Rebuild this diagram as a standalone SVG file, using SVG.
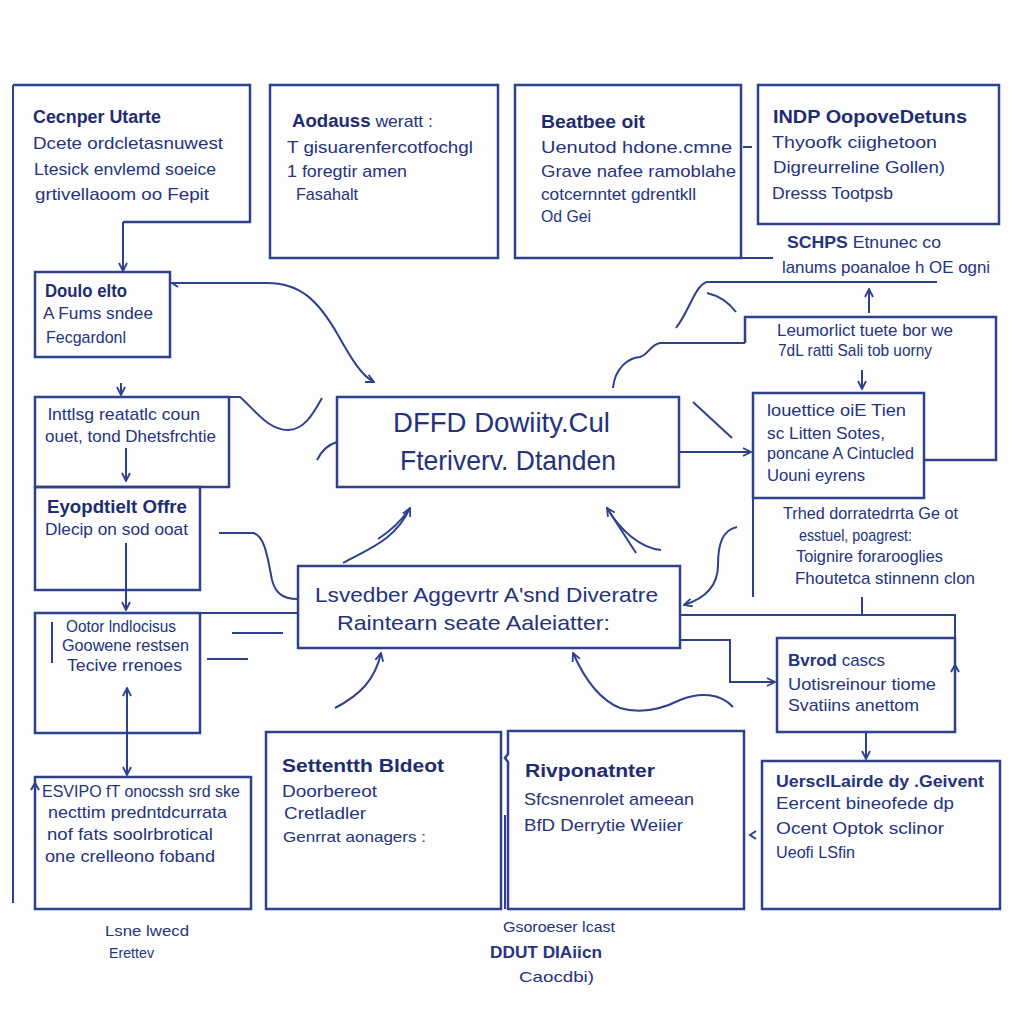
<svg xmlns="http://www.w3.org/2000/svg" width="1023" height="1023" viewBox="0 0 1023 1023">
<style>
.bx{fill:none;stroke:#2e418c;stroke-width:2.5}
.ln{fill:none;stroke:#2e418c;stroke-width:2}
.t{font-family:"Liberation Sans",Arial,sans-serif;font-size:17px;fill:#25347c}
.h{font-weight:bold;font-size:18px;fill:#1f2d70}
.big{font-size:28px;fill:#24337a}
.mid{font-size:21px;fill:#24337a}
.sm{font-size:15px}
</style>
<defs>
<marker id="ah" viewBox="0 0 10 10" refX="9" refY="5" markerWidth="10" markerHeight="10" markerUnits="userSpaceOnUse" orient="auto-start-reverse">
<path d="M1,1 L9,5 L1,9" fill="none" stroke="#2e418c" stroke-width="1.8"/>
</marker>
</defs>
<rect width="1023" height="1023" fill="#fdfdfe"/>

<g id="connectors" class="ln">
<path d="M13,85 V903"/>
<path d="M123,222 V271" marker-end="url(#ah)"/>
<path d="M170,283 H267 C300,283 318,300 338,335 C352,360 362,376 374,382" marker-end="url(#ah)"/>
<path d="M178,287 L172,283"/>
<path d="M229,397 H240 C255,410 268,430 288,430 C305,430 314,412 322,398"/>
<path d="M317,460 C322,450 330,444 337,442"/>
<path d="M121,383 V395" marker-end="url(#ah)"/>
<path d="M126,448 V481" marker-end="url(#ah)"/>
<path d="M126,543 V610" marker-end="url(#ah)"/>
<path d="M219,533 H253 C265,535 268,560 272,580 C276,595 285,599 297,599"/>
<path d="M200,613 H298"/>
<path d="M232,633 H283"/>
<path d="M207,659 H248"/>
<path d="M52,622 V663"/>
<path d="M127,688 V775" marker-start="url(#ah)" marker-end="url(#ah)"/>
<path d="M31,790 L35,783 L39,790"/>
<path d="M680,452 H751" marker-end="url(#ah)"/>
<path d="M693,402 L732,438"/>
<path d="M937,282 H707 C695,285 690,310 676,328"/>
<path d="M745,343 H660 C650,345 648,355 640,357 C628,358 615,368 613,388"/>
<path d="M707,293 C720,296 730,304 736,312"/>
<path d="M869,313 V289" marker-end="url(#ah)"/>
<path d="M862,370 V389" marker-end="url(#ah)"/>
<path d="M741,258 H773"/>
<path d="M743,147 H752"/>
<path d="M753,498 V597"/>
<path d="M862,597 V615"/>
<path d="M680,615 H955 V638"/>
<path d="M951,672 L955,665 L959,672"/>
<path d="M680,640 H730 V682 H775" marker-end="url(#ah)"/>
<path d="M866,732 V759" marker-end="url(#ah)"/>
<path d="M756,831 L750,835 L756,839"/>
<path d="M343,563 C370,548 395,540 410,508" marker-end="url(#ah)"/>
<path d="M378,539 C392,530 402,520 410,508"/>
<path d="M636,553 L607,508" marker-end="url(#ah)"/>
<path d="M661,550 C640,548 620,530 607,508"/>
<path d="M737,527 C722,530 718,545 718,565 C718,590 700,600 684,605" marker-end="url(#ah)"/>
<path d="M335,708 C360,695 375,680 381,653" marker-end="url(#ah)"/>
<path d="M733,707 C720,693 700,692 680,700 C660,710 640,714 620,708 C600,700 585,680 573,653" marker-end="url(#ah)"/>
<path d="M505,815 V909"/>
</g>

<g id="node-cecnper">
<path class="bx" d="M13,85 H250 V222 H123"/>
<text class="t h" x="33" y="123" textLength="128" lengthAdjust="spacingAndGlyphs">Cecnper Utarte</text>
<text class="t" x="33" y="149" textLength="190" lengthAdjust="spacingAndGlyphs">Dcete ordcletasnuwest</text>
<text class="t" x="34" y="175" textLength="182" lengthAdjust="spacingAndGlyphs">Ltesick envlemd soeice</text>
<text class="t" x="35" y="200" textLength="174" lengthAdjust="spacingAndGlyphs">grtivellaoom oo Fepit</text>
</g>

<g id="node-aodauss">
<rect class="bx" x="270" y="85" width="228" height="173"/>
<text class="t" x="292" y="127" textLength="141" lengthAdjust="spacingAndGlyphs"><tspan class="h">Aodauss</tspan> weratt :</text>
<text class="t" x="287" y="153" textLength="186" lengthAdjust="spacingAndGlyphs">T gisuarenfercotfochgl</text>
<text class="t" x="287" y="177" textLength="120" lengthAdjust="spacingAndGlyphs">1 foregtir amen</text>
<text class="t" x="296" y="200" textLength="62" lengthAdjust="spacingAndGlyphs">Fasahalt</text>
</g>

<g id="node-beatbee">
<rect class="bx" x="515" y="85" width="226" height="173"/>
<text class="t h" x="541" y="128" textLength="104" lengthAdjust="spacingAndGlyphs">Beatbee oit</text>
<text class="t" x="541" y="153" textLength="191" lengthAdjust="spacingAndGlyphs">Uenutod hdone.cmne</text>
<text class="t" x="541" y="177" textLength="195" lengthAdjust="spacingAndGlyphs">Grave nafee ramoblahe</text>
<text class="t" x="541" y="200" textLength="155" lengthAdjust="spacingAndGlyphs">cotcernntet gdrentkll</text>
<text class="t" x="541" y="222" textLength="50" lengthAdjust="spacingAndGlyphs">Od Gei</text>
</g>

<g id="node-indp">
<rect class="bx" x="758" y="85" width="241" height="139"/>
<text class="t h" x="773" y="123" textLength="194" lengthAdjust="spacingAndGlyphs">INDP OopoveDetuns</text>
<text class="t" x="772" y="148" textLength="165" lengthAdjust="spacingAndGlyphs">Thyoofk ciighetoon</text>
<text class="t" x="773" y="173" textLength="172" lengthAdjust="spacingAndGlyphs">Digreurreline Gollen)</text>
<text class="t" x="772" y="199" textLength="121" lengthAdjust="spacingAndGlyphs">Dresss Tootpsb</text>
</g>

<g id="label-schps">
<text class="t" x="787" y="248" textLength="154" lengthAdjust="spacingAndGlyphs"><tspan font-weight="bold">SCHPS</tspan> Etnunec co</text>
<text class="t" x="782" y="273" textLength="208" lengthAdjust="spacingAndGlyphs">lanums poanaloe h OE ogni</text>
</g>

<g id="node-leumorlict">
<path class="bx" d="M745,343 V317 H996 V460 H924"/>
<text class="t" x="777" y="336" textLength="176" lengthAdjust="spacingAndGlyphs">Leumorlict tuete bor we</text>
<text class="t" x="778" y="356" textLength="154" lengthAdjust="spacingAndGlyphs">7dL ratti Sali tob uorny</text>
</g>

<g id="node-doulo">
<rect class="bx" x="35" y="272" width="135" height="85"/>
<text class="t h" x="45" y="297" textLength="82" lengthAdjust="spacingAndGlyphs">Doulo elto</text>
<text class="t" x="43" y="319" textLength="110" lengthAdjust="spacingAndGlyphs">A Fums sndee</text>
<text class="t" x="46" y="343" textLength="80" lengthAdjust="spacingAndGlyphs">Fecgardonl</text>
</g>

<g id="node-lnttlsg">
<rect class="bx" x="35" y="397" width="194" height="90"/>
<text class="t" x="48" y="420" textLength="152" lengthAdjust="spacingAndGlyphs">lnttlsg reatatlc coun</text>
<text class="t" x="45" y="442" textLength="171" lengthAdjust="spacingAndGlyphs">ouet, tond Dhetsfrchtie</text>
</g>

<g id="node-eyopd">
<rect class="bx" x="35" y="487" width="165" height="103"/>
<text class="t h" x="47" y="513" textLength="140" lengthAdjust="spacingAndGlyphs">Eyopdtielt Offre</text>
<text class="t" x="45" y="535" textLength="143" lengthAdjust="spacingAndGlyphs">Dlecip on sod ooat</text>
</g>

<g id="node-octor">
<rect class="bx" x="35" y="613" width="165" height="120"/>
<text class="t" x="66" y="632" textLength="110" lengthAdjust="spacingAndGlyphs">Ootor lndlocisus</text>
<text class="t" x="62" y="651" textLength="127" lengthAdjust="spacingAndGlyphs">Goowene restsen</text>
<text class="t" x="67" y="671" textLength="115" lengthAdjust="spacingAndGlyphs">Tecive  rrenoes</text>
</g>

<g id="node-dffd">
<rect class="bx" x="337" y="397" width="342" height="90"/>
<text class="t big" x="393" y="432" textLength="217" lengthAdjust="spacingAndGlyphs">DFFD Dowiity.Cul</text>
<text class="t big" x="400" y="470" textLength="216" lengthAdjust="spacingAndGlyphs">Fteriverv. Dtanden</text>
</g>

<g id="node-lsvedber">
<rect class="bx" x="298" y="566" width="382" height="82"/>
<text class="t mid" x="315" y="602" textLength="343" lengthAdjust="spacingAndGlyphs">Lsvedber  Aggevrtr A'snd Diveratre</text>
<text class="t mid" x="337" y="630" textLength="273" lengthAdjust="spacingAndGlyphs">Raintearn seate  Aaleiatter:</text>
</g>

<g id="node-louettice">
<rect class="bx" x="753" y="393" width="171" height="105"/>
<text class="t" x="767" y="416" textLength="139" lengthAdjust="spacingAndGlyphs">louettice oiE Tien</text>
<text class="t" x="767" y="439" textLength="118" lengthAdjust="spacingAndGlyphs">sc Litten Sotes,</text>
<text class="t" x="767" y="459" textLength="147" lengthAdjust="spacingAndGlyphs">poncane A Cintucled</text>
<text class="t" x="767" y="481" textLength="98" lengthAdjust="spacingAndGlyphs">Uouni eyrens</text>
</g>

<g id="label-trhed">
<text class="t" x="783" y="519" textLength="175" lengthAdjust="spacingAndGlyphs">Trhed dorratedrrta Ge ot</text>
<text class="t" x="799" y="541" textLength="113" lengthAdjust="spacingAndGlyphs">esstuel, poagrest:</text>
<text class="t" x="796" y="562" textLength="147" lengthAdjust="spacingAndGlyphs">Toignire forarooglies</text>
<text class="t" x="795" y="584" textLength="180" lengthAdjust="spacingAndGlyphs">Fhoutetca stinnenn clon</text>
</g>

<g id="node-bvrod">
<rect class="bx" x="777" y="638" width="178" height="94"/>
<text class="t" x="788" y="666" textLength="97" lengthAdjust="spacingAndGlyphs"><tspan font-weight="bold">Bvrod</tspan> cascs</text>
<text class="t" x="788" y="690" textLength="148" lengthAdjust="spacingAndGlyphs">Uotisreinour tiome</text>
<text class="t" x="788" y="711" textLength="131" lengthAdjust="spacingAndGlyphs">Svatiins anettom</text>
</g>

<g id="node-uerscl">
<rect class="bx" x="762" y="761" width="238" height="148"/>
<text class="t" x="776" y="787" textLength="208" lengthAdjust="spacingAndGlyphs" font-weight="bold">UersclLairde dy .Geivent</text>
<text class="t" x="776" y="809" textLength="178" lengthAdjust="spacingAndGlyphs">Eercent bineofede dp</text>
<text class="t" x="776" y="834" textLength="168" lengthAdjust="spacingAndGlyphs">Ocent Optok sclinor</text>
<text class="t" x="776" y="858" textLength="79" lengthAdjust="spacingAndGlyphs">Ueofi LSfin</text>
</g>

<g id="node-rivponatnter">
<path class="bx" d="M508,909 V762 L505,758 L508,754 V731 H744 V909 Z"/>
<text class="t h" x="525" y="777" textLength="130" lengthAdjust="spacingAndGlyphs">Rivponatnter</text>
<text class="t" x="524" y="805" textLength="170" lengthAdjust="spacingAndGlyphs">Sfcsnenrolet ameean</text>
<text class="t" x="524" y="831" textLength="159" lengthAdjust="spacingAndGlyphs">BfD Derrytie Weiier</text>
</g>

<g id="node-settentth">
<rect class="bx" x="266" y="732" width="235" height="177"/>
<text class="t h" x="282" y="772" textLength="162" lengthAdjust="spacingAndGlyphs">Settentth Bldeot</text>
<text class="t" x="282" y="797" textLength="95" lengthAdjust="spacingAndGlyphs">Doorbereot</text>
<text class="t" x="284" y="819" textLength="82" lengthAdjust="spacingAndGlyphs">Cretladler</text>
<text class="t sm" x="283" y="842" textLength="143" lengthAdjust="spacingAndGlyphs">Genrrat aonagers :</text>
</g>

<g id="node-esvipo">
<rect class="bx" x="35" y="777" width="216" height="132"/>
<text class="t" x="42" y="797" textLength="198" lengthAdjust="spacingAndGlyphs">ESVIPO fT onocssh srd ske</text>
<text class="t" x="48" y="818" textLength="179" lengthAdjust="spacingAndGlyphs">necttim predntdcurrata</text>
<text class="t" x="47" y="840" textLength="166" lengthAdjust="spacingAndGlyphs">nof fats soolrbrotical</text>
<text class="t" x="45" y="862" textLength="170" lengthAdjust="spacingAndGlyphs">one crelleono  foband</text>
</g>

<g id="label-bottom-left">
<text class="t sm" x="105" y="936" textLength="84" lengthAdjust="spacingAndGlyphs">Lsne lwecd</text>
<text class="t sm" x="109" y="958" textLength="45" lengthAdjust="spacingAndGlyphs">Erettev</text>
</g>

<g id="label-bottom-center">
<text class="t sm" x="503" y="932" textLength="112" lengthAdjust="spacingAndGlyphs">Gsoroeser lcast</text>
<text class="t" x="490" y="958" textLength="112" lengthAdjust="spacingAndGlyphs" font-weight="bold">DDUT DIAiicn</text>
<text class="t sm" x="519" y="982" textLength="75" lengthAdjust="spacingAndGlyphs">Caocdbi)</text>
</g>
</svg>
